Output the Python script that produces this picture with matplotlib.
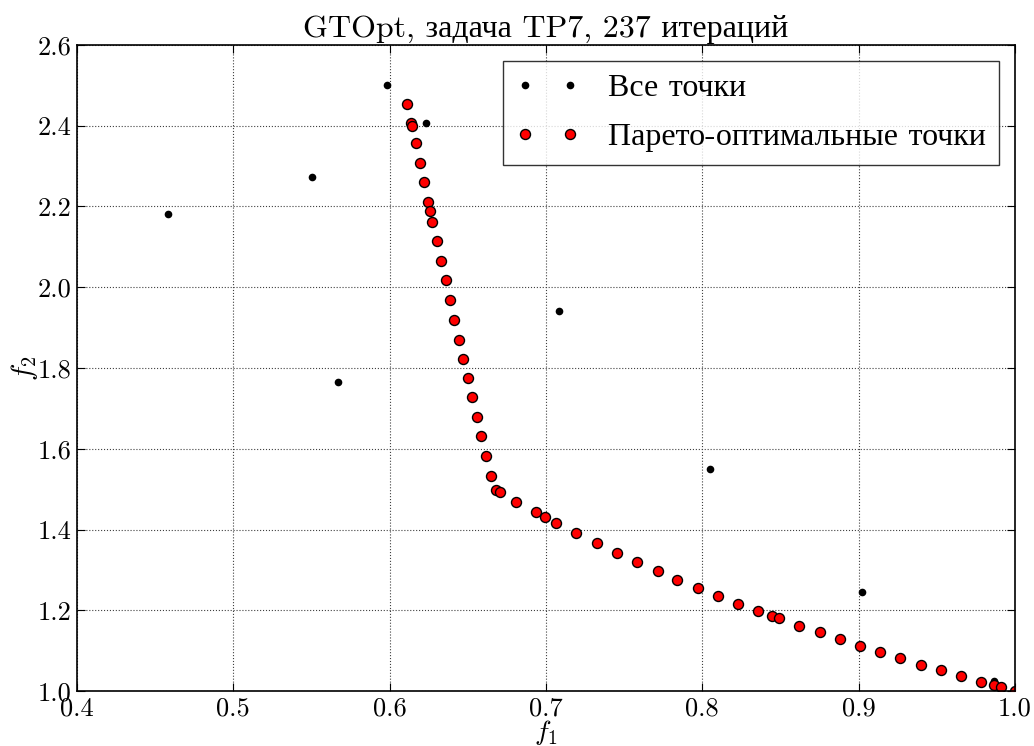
import matplotlib
matplotlib.use("Agg")
import matplotlib.pyplot as plt

plt.rcParams['font.family'] = ['cmr10', 'Liberation Serif']
plt.rcParams['mathtext.fontset'] = 'cm'
plt.rcParams['axes.formatter.use_mathtext'] = True

# Pareto-optimal points (f1, f2)
pareto_f1 = [0.6113, 0.6137, 0.6143, 0.6166, 0.6192, 0.6217, 0.6247, 0.6258, 0.6273,
             0.6301, 0.6326, 0.6358, 0.6384, 0.6412, 0.6441, 0.6469, 0.6501, 0.6529,
             0.6559, 0.6586, 0.6618, 0.6646, 0.6678, 0.6703, 0.6810, 0.6936, 0.6996,
             0.7064, 0.7194, 0.7326, 0.7454, 0.7584, 0.7714, 0.7841, 0.7972, 0.8102,
             0.8230, 0.8359, 0.8445, 0.8492, 0.8621, 0.8752, 0.8880, 0.9008, 0.9136,
             0.9265, 0.9398, 0.9527, 0.9656, 0.9785, 0.9868, 0.9913, 1.0000]
pareto_f2 = [2.455, 2.407, 2.400, 2.357, 2.308, 2.260, 2.212, 2.190, 2.162,
             2.114, 2.066, 2.017, 1.969, 1.920, 1.870, 1.823, 1.775, 1.727,
             1.679, 1.631, 1.582, 1.533, 1.499, 1.494, 1.469, 1.444, 1.431,
             1.416, 1.391, 1.367, 1.343, 1.320, 1.298, 1.276, 1.255, 1.236,
             1.216, 1.197, 1.186, 1.180, 1.162, 1.145, 1.128, 1.112, 1.096,
             1.081, 1.065, 1.052, 1.037, 1.023, 1.015, 1.011, 1.000]

# Other (dominated) points
other_f1 = [0.598, 0.6235, 0.4585, 0.5501, 0.567, 0.7083, 0.8052, 0.9023, 0.9868]
other_f2 = [2.501, 2.407, 2.182, 2.272, 1.765, 1.941, 1.550, 1.245, 1.025]

all_f1 = other_f1 + pareto_f1
all_f2 = other_f2 + pareto_f2

title = "GTOpt, задача TP7, 237 итераций"
label_all = "Все точки"
label_pareto = "Парето-оптимальные точки"
xticks = [0.4, 0.5, 0.6, 0.7, 0.8, 0.9, 1.0]
yticks = [1.0, 1.2, 1.4, 1.6, 1.8, 2.0, 2.2, 2.4, 2.6]

fig = plt.figure(figsize=(10.34, 7.46), dpi=100)
ax = fig.add_axes([0.0745, 0.0737, 0.907, 0.866])

ax.plot(all_f1, all_f2, 'o', color='black', markersize=5.5, markeredgewidth=0,
        linestyle='none', label=label_all)
ax.plot(pareto_f1, pareto_f2, 'o', color='red', markersize=7.2, markeredgecolor='black',
        markeredgewidth=1, linestyle='none', label=label_pareto)

ax.set_xlim(0.4, 1.0)
ax.set_ylim(1.0, 2.6)
ax.set_xticks(xticks)
ax.set_yticks(yticks)
ax.set_xticklabels([f"{v:.1f}" for v in xticks])
ax.set_yticklabels([f"{v:.1f}" for v in yticks])
ax.tick_params(direction='in', top=True, right=True, labelsize=19, length=6, pad=4)
ax.grid(True, color='0.25', linestyle=':', linewidth=0.8)
for s in ax.spines.values():
    s.set_linewidth(1.2)

ax.set_title(title, fontsize=23, pad=6)
ax.set_xlabel(r"$f_1$", fontsize=20, labelpad=-2)
ax.set_ylabel(r"$f_2$", fontsize=21, labelpad=-2)

leg = ax.legend(loc='upper right', numpoints=2, fontsize=23, fancybox=False,
                handlelength=2.0, handletextpad=0.9, borderaxespad=0.5,
                labelspacing=0.65)
leg.get_frame().set_edgecolor('black')
leg.get_frame().set_linewidth(1.0)

fig.savefig("out.png", dpi=100)
